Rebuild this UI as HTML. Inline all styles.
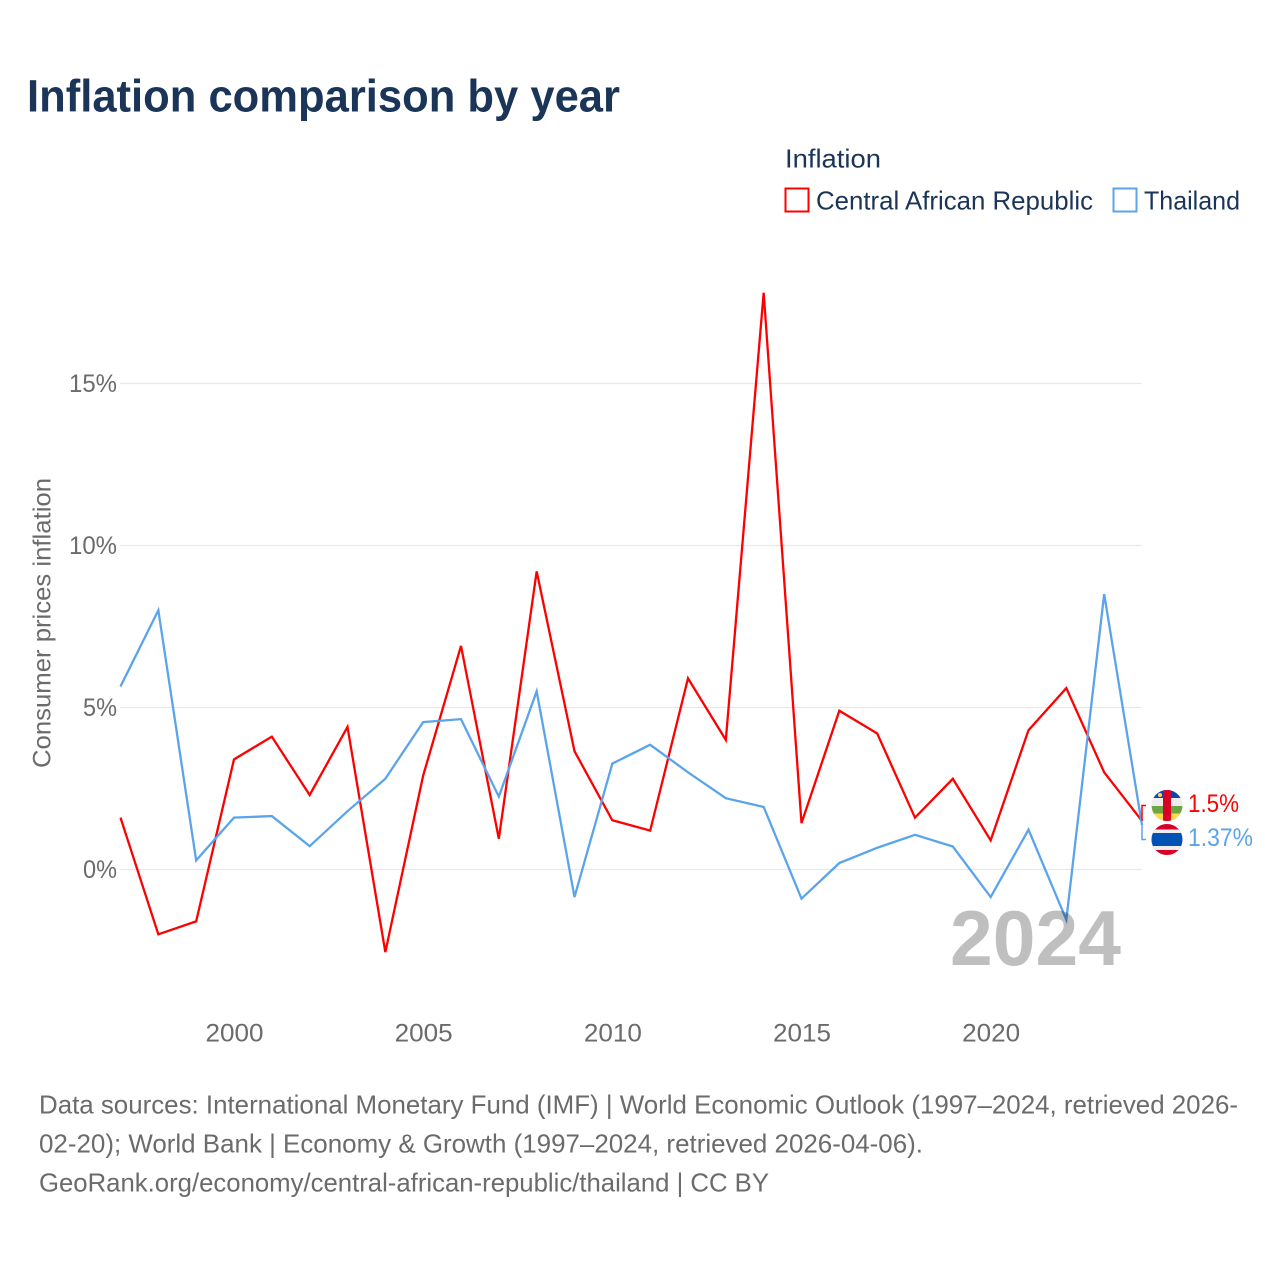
<!DOCTYPE html>
<html lang="en">
<head>
<meta charset="utf-8">
<title>Inflation comparison by year</title>
<style>
html,body{margin:0;padding:0;background:#fff;}
svg{display:block;font-family:"Liberation Sans",sans-serif;}
</style>
</head>
<body>
<svg id="chart" xmlns="http://www.w3.org/2000/svg" width="1280" height="1280" viewBox="0 0 1280 1280">
  <defs>
    <clipPath id="clip-car"><circle cx="1167" cy="805.5" r="15.5"/></clipPath>
    <clipPath id="clip-th"><circle cx="1167" cy="839.5" r="15.5"/></clipPath>
  </defs>
  <rect width="1280" height="1280" fill="#fff"/>
  <text x="27" y="111.5" font-size="45" font-weight="700" fill="#1a3557" textLength="593" lengthAdjust="spacingAndGlyphs">Inflation comparison by year</text>

  <g>
    <text x="785" y="167.5" font-size="26" fill="#1a3557" textLength="96" lengthAdjust="spacingAndGlyphs">Inflation</text>
    <rect x="785.5" y="188.5" width="23" height="23" fill="none" stroke="#ff0000" stroke-width="2"/>
    <text x="816" y="209.5" font-size="26" fill="#1a3557" textLength="277" lengthAdjust="spacingAndGlyphs">Central African Republic</text>
    <rect x="1113.5" y="188.5" width="23" height="23" fill="none" stroke="#5ba4ec" stroke-width="2"/>
    <text x="1144" y="209.5" font-size="26" fill="#1a3557" textLength="96" lengthAdjust="spacingAndGlyphs">Thailand</text>
  </g>

  <text transform="translate(50.5,768) rotate(-90)" font-size="25" fill="#6b6b6b" textLength="290" lengthAdjust="spacingAndGlyphs">Consumer prices inflation</text>

  <g id="grid"></g>
  <g id="y-ticks"></g>
  <g id="x-ticks"></g>

  <g id="series"></g>

  <text x="950" y="965" font-size="78" font-weight="700" fill="#000000" fill-opacity="0.25" textLength="171" lengthAdjust="spacingAndGlyphs">2024</text>

  <g id="connectors"></g>

  <g clip-path="url(#clip-car)">
    <rect x="1151" y="790" width="32" height="8" fill="#0f47af"/>
    <rect x="1151" y="798" width="32" height="8" fill="#eeeeee"/>
    <rect x="1151" y="806" width="32" height="7.5" fill="#6da544"/>
    <rect x="1151" y="813.5" width="32" height="8" fill="#ffda44"/>
    <rect x="1163" y="790" width="8" height="32" fill="#d80027"/>
    <circle cx="1160" cy="795" r="2" fill="#ffda44"/>
  </g>
  <g clip-path="url(#clip-th)">
    <rect x="1151" y="824" width="32" height="32" fill="#d80027"/>
    <rect x="1151" y="829.5" width="32" height="20.5" fill="#eeeeee"/>
    <rect x="1151" y="833" width="32" height="13" fill="#0052b4"/>
  </g>

  <text x="1188" y="812" font-size="25" fill="#ff0000" textLength="51" lengthAdjust="spacingAndGlyphs">1.5%</text>
  <text x="1188" y="846" font-size="25" fill="#5ba4ec" textLength="65" lengthAdjust="spacingAndGlyphs">1.37%</text>

  <g font-size="26" fill="#6b6b6b">
    <text x="39" y="1113.5" textLength="1199" lengthAdjust="spacingAndGlyphs">Data sources: International Monetary Fund (IMF) | World Economic Outlook (1997–2024, retrieved 2026-</text>
    <text x="39" y="1152.5" textLength="884" lengthAdjust="spacingAndGlyphs">02-20); World Bank | Economy &amp; Growth (1997–2024, retrieved 2026-04-06).</text>
    <text x="39" y="1191.5" textLength="730" lengthAdjust="spacingAndGlyphs">GeoRank.org/economy/central-african-republic/thailand | CC BY</text>
  </g>
</svg>
<script>
var years = [1997,1998,1999,2000,2001,2002,2003,2004,2005,2006,2007,2008,2009,2010,2011,2012,2013,2014,2015,2016,2017,2018,2019,2020,2021,2022,2023,2024];
var carValues = [1.6,-2.0,-1.6,3.4,4.1,2.3,4.4,-2.55,2.9,6.9,0.95,9.2,3.65,1.52,1.2,5.9,4.0,17.8,1.43,4.9,4.2,1.6,2.8,0.9,4.3,5.6,3.0,1.5];
var thailandValues = [5.65,8.0,0.28,1.6,1.65,0.72,1.8,2.8,4.55,4.64,2.25,5.5,-0.85,3.27,3.85,3.0,2.2,1.93,-0.9,0.2,0.67,1.07,0.71,-0.85,1.23,-1.55,8.5,1.37];
var yTickValues = [0,5,10,15];
var xTickValues = [2000,2005,2010,2015,2020];

var NS = 'http://www.w3.org/2000/svg';
function xScale(year){ return 120.5 + (year - 1997) * (1142 - 120.5) / 27; }
function yScale(value){ return 869.5 - value * 32.4; }
function make(tag, parent, attrs){
  var el = document.createElementNS(NS, tag);
  for (var k in attrs) el.setAttribute(k, attrs[k]);
  parent.appendChild(el);
  return el;
}

var grid = document.getElementById('grid');
var yTicks = document.getElementById('y-ticks');
yTickValues.forEach(function(v){
  var line = make('line', grid, {x1:120, x2:1141.5, y1:yScale(v), y2:yScale(v), stroke:'#e8e8e8', 'stroke-width':1.3});
  
  
  var label = make('text', yTicks, {x:117, y:yScale(v)+8.5, 'text-anchor':'end', 'font-size':25, fill:'#6b6b6b'});
  
  
  label.textContent = v + '%';
  label.setAttribute('textLength', String(v).length > 1 ? 48 : 34);
  label.setAttribute('lengthAdjust', 'spacingAndGlyphs');
});

var xTicks = document.getElementById('x-ticks');
xTickValues.forEach(function(y){
  var label = make('text', xTicks, {x:xScale(y)+0.5, y:1041.5, 'text-anchor':'middle', 'font-size':25, fill:'#6b6b6b'});
  
  
  label.textContent = y;
  label.setAttribute('textLength', 58);
  label.setAttribute('lengthAdjust', 'spacingAndGlyphs');
});

function linePoints(values){
  return values.map(function(v, i){ return xScale(years[i]).toFixed(2) + ',' + yScale(v).toFixed(2); }).join(' ');
}
var series = document.getElementById('series');
var carLine = make('polyline', series, {points:linePoints(carValues), fill:'none', stroke:'#ff0000', 'stroke-width':2.3, 'stroke-linejoin':'miter'});


var thLine = make('polyline', series, {points:linePoints(thailandValues), fill:'none', stroke:'#5ba4ec', 'stroke-width':2.3, 'stroke-linejoin':'miter'});



var connectors = document.getElementById('connectors');
var lastCarY = yScale(carValues[carValues.length - 1]);
var lastThY = yScale(thailandValues[thailandValues.length - 1]);
var carConn = make('polyline', connectors, {points:'1142,' + lastCarY + ' 1142,805.5 1146,805.5', fill:'none', stroke:'#ff0000', 'stroke-width':1.5});


var thConn = make('polyline', connectors, {points:'1142,' + lastThY + ' 1142,839.5 1146,839.5', fill:'none', stroke:'#5ba4ec', 'stroke-width':1.5});


</script>
</body>
</html>
